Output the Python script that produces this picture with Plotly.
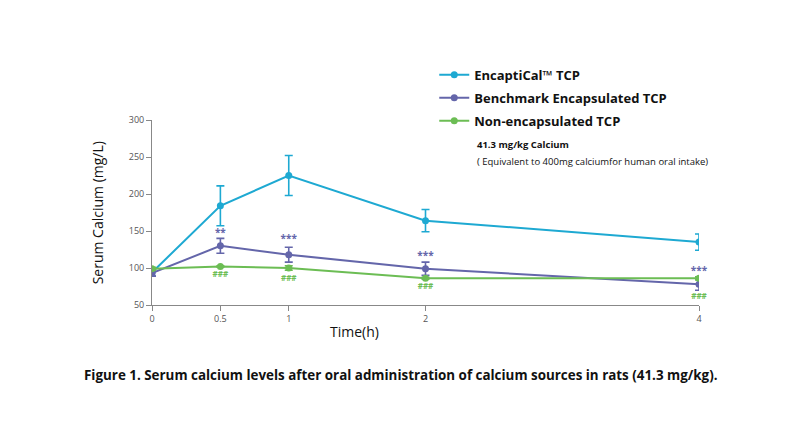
import plotly.graph_objects as go

# time points (h)
time_h = [0, 0.5, 1, 2, 4]

# serum calcium (mg/L) and error bars
encap_mean = [94, 184, 225, 164, 135]
encap_err = [5, 27, 27, 15, 11]

bench_mean = [93, 130, 118, 99, 78]
bench_err = [4, 10, 10, 9, 8]

nonencap_mean = [99, 102, 100, 86, 86]
nonencap_err = [2, 1, 3, 1, 2]

# significance labels and the heights they sit at
bench_sig = ["", "**", "***", "***", "***"]
bench_sig_y = [None, 147, 139, 115, 95]
nonencap_sig = ["", "###", "###", "###", "###"]
nonencap_sig_y = [None, 90, 85, 74, 61]

names = ["EncaptiCal\u2122 TCP", "Benchmark Encapsulated TCP", "Non-encapsulated TCP"]
colors = ["#1ea9d2", "#6466aa", "#6cbd54"]

fig = go.Figure()

for i, (name, mean, err, col) in enumerate(zip(names,
                                               [encap_mean, bench_mean, nonencap_mean],
                                               [encap_err, bench_err, nonencap_err],
                                               colors)):
    fig.add_trace(go.Scatter(
        x=time_h, y=mean, name=name, mode="lines+markers",
        legendgroup="g%d" % i,
        line=dict(color=col, width=2),
        marker=dict(color=col, size=7),
        error_y=dict(type="data", array=err, color=col, thickness=1.6, width=4),
    ))

# star / hash labels
fig.add_trace(go.Scatter(
    x=time_h, y=bench_sig_y, text=bench_sig, mode="text",
    textposition="middle center", cliponaxis=False,
    textfont=dict(color=colors[1], size=10, family="Open Sans", weight="bold"),
    showlegend=False, hoverinfo="skip",
))
fig.add_trace(go.Scatter(
    x=time_h, y=nonencap_sig_y, text=nonencap_sig, mode="text",
    textposition="middle center", cliponaxis=False,
    textfont=dict(color=colors[2], size=8, family="Open Sans", weight="bold"),
    showlegend=False, hoverinfo="skip",
))

axis_style = dict(
    showgrid=False, zeroline=False, showline=True, linecolor="#888",
    linewidth=1, ticks="outside", tickcolor="#888", ticklen=5,
    tickfont=dict(size=9, color="#555", family="Open Sans"),
)

fig.update_layout(
    width=800, height=444,
    margin=dict(l=144, r=109, t=112, b=147),
    paper_bgcolor="white", plot_bgcolor="white",
    font=dict(family="Open Sans"),
    xaxis=dict(range=[0, 4], tickvals=time_h, ticktext=["0", "0.5", "1", "2", "4"], **axis_style),
    yaxis=dict(range=[50, 300], tickvals=[50, 100, 150, 200, 250, 300], **axis_style),
    legend=dict(
        x=0.516, y=1.325, xanchor="left", yanchor="top",
        font=dict(size=13, color="#111", family="Open Sans", weight="bold"),
        bgcolor="rgba(0,0,0,0)", itemwidth=30, tracegroupgap=3,
    ),
    annotations=[
        dict(text="Serum Calcium (mg/L)", textangle=-90, xref="paper", yref="paper",
             x=-0.099, y=0.5, xanchor="center", yanchor="middle", showarrow=False,
             font=dict(size=14, color="#111")),
        dict(text="Time(h)", xref="paper", yref="paper", x=0.371, y=-0.145,
             xanchor="center", yanchor="middle", showarrow=False,
             font=dict(size=14, color="#111")),
        dict(text="<b>41.3 mg/kg Calcium</b>", xref="paper", yref="paper",
             x=0.59, y=0.865, xanchor="left", yanchor="middle", showarrow=False,
             font=dict(size=9.5, color="#111")),
        dict(text="( Equivalent to 400mg calciumfor human oral intake)", xref="paper", yref="paper",
             x=0.59, y=0.773, xanchor="left", yanchor="middle", showarrow=False,
             font=dict(size=9.5, color="#111")),
        dict(text="<b>Figure 1. Serum calcium levels after oral administration of calcium sources in rats (41.3 mg/kg).</b>",
             xref="paper", yref="paper", x=0.455, y=-0.378, xanchor="center", yanchor="middle",
             showarrow=False, font=dict(size=13.4, color="#111")),
    ],
)

fig.write_html("out.html")
